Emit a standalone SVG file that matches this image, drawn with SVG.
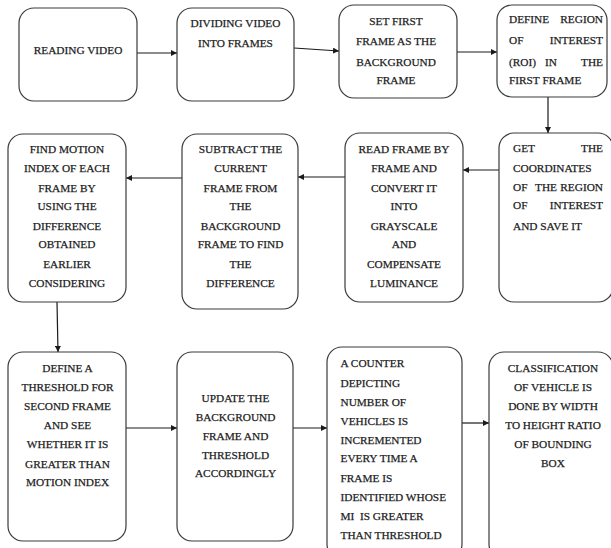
<svg xmlns="http://www.w3.org/2000/svg" width="611" height="548" viewBox="0 0 611 548">
<style>
.box{fill:#fff;stroke:#3a3a3a;stroke-width:1.2}
text{font-family:"Liberation Serif","Times New Roman",serif;font-size:11.3px;fill:#111;stroke:#333;stroke-width:0.25}
.c{text-anchor:middle}
.e{text-anchor:end}
.ln{stroke:#1a1a1a;stroke-width:1.2;fill:none}
</style>
<defs>
<marker id="ah" viewBox="0 0 10 10" refX="10" refY="5" markerWidth="6" markerHeight="6" markerUnits="userSpaceOnUse" orient="auto">
<path d="M0,0 L10,5 L0,10 z" fill="#1a1a1a"/>
</marker>
</defs>
<rect width="611" height="548" fill="#fff"/>
<g id="connectors">
<line class="ln" x1="137" y1="53" x2="177" y2="53" marker-end="url(#ah)"/>
<line class="ln" x1="294" y1="48" x2="339" y2="51" marker-end="url(#ah)"/>
<line class="ln" x1="457" y1="52" x2="497" y2="52" marker-end="url(#ah)"/>
<line class="ln" x1="548" y1="97" x2="548" y2="133" marker-end="url(#ah)"/>
<line class="ln" x1="499" y1="170" x2="463" y2="170" marker-end="url(#ah)"/>
<line class="ln" x1="345" y1="177" x2="298" y2="177" marker-end="url(#ah)"/>
<line class="ln" x1="182" y1="178" x2="126" y2="178" marker-end="url(#ah)"/>
<line class="ln" x1="57" y1="302" x2="58" y2="352" marker-end="url(#ah)"/>
<line class="ln" x1="126" y1="428" x2="177" y2="428" marker-end="url(#ah)"/>
<line class="ln" x1="293" y1="428" x2="327" y2="428" marker-end="url(#ah)"/>
<line class="ln" x1="462" y1="423" x2="489" y2="423" marker-end="url(#ah)"/>
</g>
<g id="n1">
<rect class="box" x="19" y="8" width="118" height="93" rx="15"/>
<text class="c" x="78" y="54">READING VIDEO</text>
</g>
<g id="n2">
<rect class="box" x="177" y="8" width="117" height="93" rx="15"/>
<text class="c" x="235.5" y="27">DIVIDING VIDEO</text>
<text class="c" x="235.5" y="47">INTO FRAMES</text>
</g>
<g id="n3">
<rect class="box" x="339" y="5" width="118" height="93" rx="15"/>
<text class="c" x="396" y="25">SET FIRST</text>
<text class="c" x="396" y="44.5">FRAME AS THE</text>
<text class="c" x="396" y="65.5">BACKGROUND</text>
<text class="c" x="396" y="84">FRAME</text>
</g>
<g id="n4">
<rect class="box" x="497" y="5" width="110" height="92" rx="15"/>
<text x="509" y="22.5">DEFINE</text><text class="e" x="603" y="22.5">REGION</text>
<text x="509" y="44">OF</text><text class="e" x="603" y="44">INTEREST</text>
<text x="509" y="65.5">(ROI)</text><text x="545" y="65.5">IN</text><text class="e" x="603" y="65.5">THE</text>
<text x="509" y="84">FIRST FRAME</text>
</g>
<g id="n5">
<rect class="box" x="8" y="134" width="118" height="168" rx="15"/>
<text class="c" x="67" y="153">FIND MOTION</text>
<text class="c" x="67" y="172">INDEX OF EACH</text>
<text class="c" x="67" y="191.5">FRAME BY</text>
<text class="c" x="67" y="210">USING THE</text>
<text class="c" x="67" y="229.5">DIFFERENCE</text>
<text class="c" x="67" y="248">OBTAINED</text>
<text class="c" x="67" y="268">EARLIER</text>
<text class="c" x="67" y="286.5">CONSIDERING</text>
</g>
<g id="n6">
<rect class="box" x="182" y="134" width="116" height="175" rx="15"/>
<text class="c" x="240.5" y="153">SUBTRACT THE</text>
<text class="c" x="240.5" y="172">CURRENT</text>
<text class="c" x="240.5" y="191.5">FRAME FROM</text>
<text class="c" x="240.5" y="210">THE</text>
<text class="c" x="240.5" y="229.5">BACKGROUND</text>
<text class="c" x="240.5" y="248">FRAME TO FIND</text>
<text class="c" x="240.5" y="268">THE</text>
<text class="c" x="240.5" y="286.5">DIFFERENCE</text>
</g>
<g id="n7">
<rect class="box" x="345" y="133" width="118" height="169" rx="15"/>
<text class="c" x="404" y="153">READ FRAME BY</text>
<text class="c" x="404" y="172">FRAME AND</text>
<text class="c" x="404" y="191.5">CONVERT IT</text>
<text class="c" x="404" y="210">INTO</text>
<text class="c" x="404" y="229.5">GRAYSCALE</text>
<text class="c" x="404" y="248">AND</text>
<text class="c" x="404" y="268">COMPENSATE</text>
<text class="c" x="404" y="286.5">LUMINANCE</text>
</g>
<g id="n8">
<rect class="box" x="499" y="133" width="114" height="169" rx="15"/>
<text x="513" y="152">GET</text><text class="e" x="603" y="152">THE</text>
<text x="513" y="171.5">COORDINATES</text>
<text x="513" y="190.5">OF</text><text x="535" y="190.5">THE</text><text class="e" x="603" y="190.5">REGION</text>
<text x="513" y="209">OF</text><text class="e" x="603" y="209">INTEREST</text>
<text x="513" y="230">AND SAVE IT</text>
</g>
<g id="n9">
<rect class="box" x="8" y="352" width="118" height="189" rx="15"/>
<text class="c" x="67.5" y="371.5">DEFINE A</text>
<text class="c" x="67.5" y="390.5">THRESHOLD FOR</text>
<text class="c" x="67.5" y="410">SECOND FRAME</text>
<text class="c" x="67.5" y="428.5">AND SEE</text>
<text class="c" x="67.5" y="448">WHETHER IT IS</text>
<text class="c" x="67.5" y="467.5">GREATER THAN</text>
<text class="c" x="67.5" y="485.5">MOTION INDEX</text>
</g>
<g id="n10">
<rect class="box" x="177" y="352" width="116" height="189" rx="15"/>
<text class="c" x="235.5" y="402">UPDATE THE</text>
<text class="c" x="235.5" y="420.5">BACKGROUND</text>
<text class="c" x="235.5" y="440">FRAME AND</text>
<text class="c" x="235.5" y="459">THRESHOLD</text>
<text class="c" x="235.5" y="477">ACCORDINGLY</text>
</g>
<g id="n11">
<rect class="box" x="327" y="347" width="135" height="212" rx="15"/>
<text x="340.5" y="367">A COUNTER</text>
<text x="340.5" y="387">DEPICTING</text>
<text x="340.5" y="406">NUMBER OF</text>
<text x="340.5" y="424.5">VEHICLES IS</text>
<text x="340.5" y="444">INCREMENTED</text>
<text x="340.5" y="462">EVERY TIME A</text>
<text x="340.5" y="482">FRAME IS</text>
<text x="340.5" y="500.5">IDENTIFIED WHOSE</text>
<text x="340.5" y="519.5" xml:space="preserve">MI  IS GREATER</text>
<text x="340.5" y="539">THAN THRESHOLD</text>
</g>
<g id="n12">
<rect class="box" x="489" y="352" width="124" height="207" rx="15"/>
<text class="c" x="553" y="371.5">CLASSIFICATION</text>
<text class="c" x="553" y="391">OF VEHICLE IS</text>
<text class="c" x="553" y="410">DONE BY WIDTH</text>
<text class="c" x="553" y="429">TO HEIGHT RATIO</text>
<text class="c" x="553" y="448">OF BOUNDING</text>
<text class="c" x="553" y="467">BOX</text>
</g>
</svg>
